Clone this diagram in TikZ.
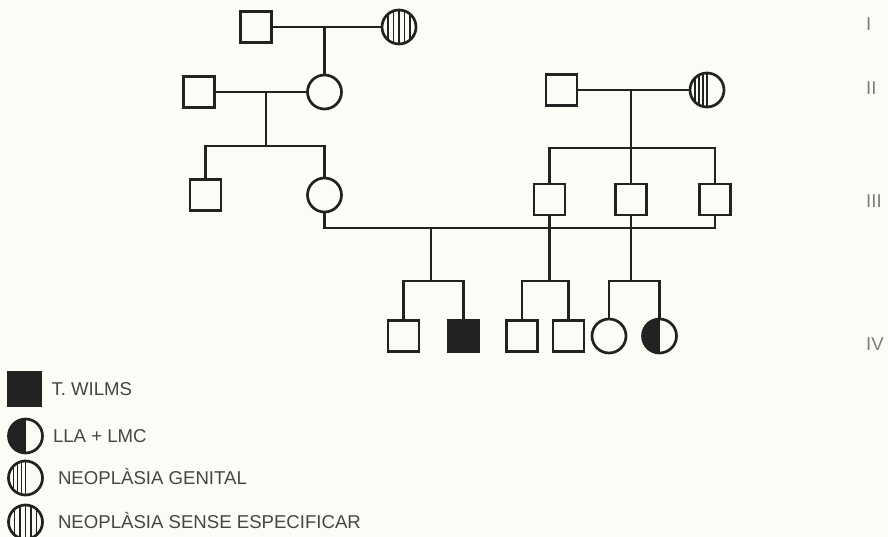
\documentclass[tikz,border=0pt]{standalone}
\usepackage{fontspec}
\setmainfont{Liberation Sans}
\usetikzlibrary{positioning}
\definecolor{PaperWhite}{RGB}{252,252,246}
\definecolor{InkGray}{RGB}{34,34,34}
\definecolor{TextGray}{RGB}{70,70,70}
\definecolor{GenGray}{RGB}{125,125,125}
\tikzset{
  male/.style={draw=InkGray,line width=2.7pt,minimum size=31pt,inner sep=0pt},
  female/.style={draw=InkGray,circle,line width=2.7pt,minimum size=34pt,inner sep=0pt},
  wilms/.style={fill=InkGray},
  halfblack/.style={path picture={\fill[InkGray] (path picture bounding box.south west)
    rectangle (path picture bounding box.north);}},
  hatchall/.style={path picture={\foreach \dx in {-11,-5.5,0,5.5,11}
    \draw[InkGray,line width=1.3pt] ([xshift=\dx pt]path picture bounding box.south)
      -- ([xshift=\dx pt]path picture bounding box.north);}},
  hatchleft/.style={path picture={\foreach \dx in {-12,-8,-4,0}
    \draw[InkGray,line width=1.3pt] ([xshift=\dx pt]path picture bounding box.south)
      -- ([xshift=\dx pt]path picture bounding box.north);}},
  line/.style={draw=InkGray,line width=2.6pt},
  legtext/.style={font=\fontsize{18.6}{20}\selectfont,text=TextGray,inner sep=0pt,
    text height=13pt,text depth=0pt},
  gentext/.style={font=\fontsize{18.6}{20}\selectfont,text=GenGray,inner sep=0pt,anchor=west}
}

\begin{document}
\begin{tikzpicture}[x=1pt,y=-1pt]
  \fill[PaperWhite] (0,0) rectangle (888,537);
  \useasboundingbox (0,0) rectangle (888,537);
  % generation I
  \node[male] (i1) at (256,27) {};
  \node[female,hatchall] (i2) at (399,27) {};
  % generation II
  \node[male] (ii1) at (199,92) {};
  \node[female] (ii2) at (324.5,92) {};
  \node[male] (ii3) at (561.5,90) {};
  \node[female,hatchleft] (ii4) at (707,90) {};
  % generation III
  \node[male] (iii1) at (205.5,195) {};
  \node[female] (iii2) at (324.5,195) {};
  \node[male] (iii3) at (549.5,199.5) {};
  \node[male] (iii4) at (631,199.5) {};
  \node[male] (iii5) at (715,199.5) {};
  % generation IV
  \node[male] (iv1) at (403.5,336) {};
  \node[male,wilms] (iv2) at (463.5,336) {};
  \node[male] (iv3) at (522,336) {};
  \node[male] (iv4) at (568.5,336) {};
  \node[female] (iv5) at (609,336) {};
  \node[female,halfblack] (iv6) at (659.5,336) {};

  \draw[line] (i1) -- (i2);
  \draw[line] (ii2) -- (ii2 |- i1);

  \draw[line] (ii1) -- (ii2);
  \coordinate (m2) at (266,92);
  \coordinate (s2) at (266,146);
  \draw[line] (m2) -- (s2);
  \draw[line] (iii1.north) |- (s2) -| (iii2.north);

  \draw[line] (ii3) -- (ii4);
  \coordinate (m3) at (631,90);
  \coordinate (s3) at (631,148);
  \draw[line] (m3) -- (s3) -- (iii4.north);
  \draw[line] (iii3.north) |- (s3) -| (iii5.north);

  \coordinate (m4) at (431,228);
  \coordinate (s4) at (431,281);
  \draw[line] (iii2.south) |- (m4) -| (iii5.south);
  \draw[line] (m4) -- (s4);
  \draw[line] (iv1.north) |- (s4) -| (iv2.north);

  \coordinate (s5) at (iii3 |- s4);
  \draw[line] (iii3.south) -- (s5);
  \draw[line] (iv3.north) |- (s5) -| (iv4.north);

  \coordinate (s6) at (iii4 |- s4);
  \draw[line] (iii4.south) -- (s6);
  \draw[line] (iv5.north) |- (s6) -| (iv6.north);

  % generation numbers
  \node[gentext] (g1) at (866,24) {I};
  \node[gentext] (g2) at (866,88) {II};
  \node[gentext] (g3) at (866,201) {III};
  \node[gentext] (g4) at (866,344) {IV};

  % legend
  \node[male,wilms,minimum size=33pt] (lg1) at (24.5,389) {};
  \node[female,halfblack] (lg2) at (25.5,436) {};
  \node[female,hatchleft] (lg3) at (25.5,478) {};
  \node[female,hatchall] (lg4) at (25.5,522) {};
  \node[legtext,right=9pt of lg1] (lt1) {T. WILMS};
  \node[legtext,right=9pt of lg2] (lt2) {LLA + LMC};
  \node[legtext,right=14pt of lg3] (lt3) {NEOPLÀSIA GENITAL};
  \node[legtext,right=14pt of lg4] (lt4) {NEOPLÀSIA SENSE ESPECIFICAR};
\end{tikzpicture}
\end{document}
